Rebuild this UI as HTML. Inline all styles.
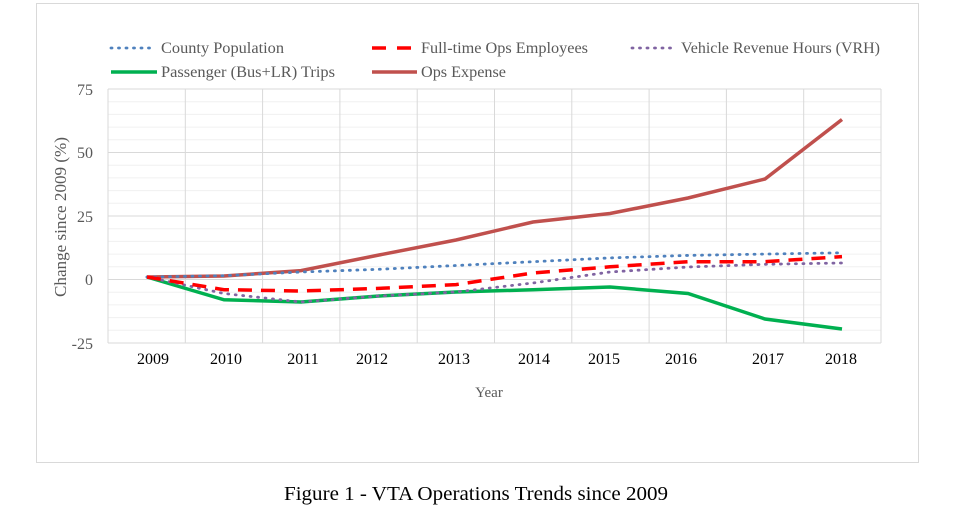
<!DOCTYPE html>
<html><head><meta charset="utf-8"><style>
html,body{margin:0;padding:0;background:#fff;width:976px;height:517px;overflow:hidden}
svg{display:block}
</style></head><body>
<svg width="976" height="517" viewBox="0 0 976 517" xmlns="http://www.w3.org/2000/svg" font-family="Liberation Serif, serif">
<rect x="36.5" y="3.5" width="882" height="459" fill="#fff" stroke="#d9d9d9" stroke-width="1"/>
<g stroke="#f0f0f0" stroke-width="1">
<line x1="108" x2="881" y1="101.7" y2="101.7"/><line x1="108" x2="881" y1="114.4" y2="114.4"/><line x1="108" x2="881" y1="127.1" y2="127.1"/><line x1="108" x2="881" y1="139.8" y2="139.8"/>
<line x1="108" x2="881" y1="165.2" y2="165.2"/><line x1="108" x2="881" y1="177.9" y2="177.9"/><line x1="108" x2="881" y1="190.6" y2="190.6"/><line x1="108" x2="881" y1="203.3" y2="203.3"/>
<line x1="108" x2="881" y1="228.7" y2="228.7"/><line x1="108" x2="881" y1="241.4" y2="241.4"/><line x1="108" x2="881" y1="254.1" y2="254.1"/><line x1="108" x2="881" y1="266.8" y2="266.8"/>
<line x1="108" x2="881" y1="292.2" y2="292.2"/><line x1="108" x2="881" y1="304.9" y2="304.9"/><line x1="108" x2="881" y1="317.6" y2="317.6"/><line x1="108" x2="881" y1="330.3" y2="330.3"/>
</g>
<g stroke="#d9d9d9" stroke-width="1">
<line x1="108" x2="881" y1="89" y2="89"/><line x1="108" x2="881" y1="152.5" y2="152.5"/><line x1="108" x2="881" y1="216" y2="216"/><line x1="108" x2="881" y1="279.5" y2="279.5"/><line x1="108" x2="881" y1="343" y2="343"/>
<line x1="108" x2="108" y1="89" y2="343"/><line x1="185.3" x2="185.3" y1="89" y2="343"/><line x1="262.6" x2="262.6" y1="89" y2="343"/><line x1="339.9" x2="339.9" y1="89" y2="343"/><line x1="417.2" x2="417.2" y1="89" y2="343"/><line x1="494.5" x2="494.5" y1="89" y2="343"/><line x1="571.8" x2="571.8" y1="89" y2="343"/><line x1="649.1" x2="649.1" y1="89" y2="343"/><line x1="726.4" x2="726.4" y1="89" y2="343"/><line x1="803.7" x2="803.7" y1="89" y2="343"/><line x1="881" x2="881" y1="89" y2="343"/>
</g>
<g font-size="16" fill="#595959" text-anchor="end">
<text x="93" y="95">75</text><text x="93" y="158">50</text><text x="93" y="222">25</text><text x="93" y="285">0</text><text x="93" y="349">-25</text>
</g>
<g font-size="16" fill="#000" text-anchor="middle">
<text x="153" y="364">2009</text><text x="226" y="364">2010</text><text x="303" y="364">2011</text><text x="372" y="364">2012</text><text x="454" y="364">2013</text><text x="534" y="364">2014</text><text x="604" y="364">2015</text><text x="681" y="364">2016</text><text x="768" y="364">2017</text><text x="841" y="364">2018</text>
</g>
<text x="489" y="397" font-size="15" fill="#595959" text-anchor="middle">Year</text>
<text transform="translate(66,217) rotate(-90)" font-size="16.5" fill="#595959" text-anchor="middle" textLength="160" lengthAdjust="spacingAndGlyphs">Change since 2009 (%)</text>
<polyline fill="none" stroke="#c0504d" stroke-width="3.5" points="147,277 224,276 301,270.6 379,255 456,240 533,222 610,213.5 688,198 765,179 842,119.5"/>
<polyline fill="none" stroke="#00b050" stroke-width="3.5" points="147,277 224,299.8 301,302 379,296 456,292 533,289.7 610,287 688,293.5 765,319 842,329"/>
<polyline fill="none" stroke="#8064a2" stroke-width="2.8" stroke-dasharray="1 6.5" stroke-linecap="round" points="147,277 224,293.5 301,302 379,296 456,292 533,283 610,272 688,267 765,264.3 842,263"/>
<polyline fill="none" stroke="#4f81bd" stroke-width="2.8" stroke-dasharray="1 6.5" stroke-linecap="round" points="147,277 224,275.7 301,272 379,269.3 456,265.5 533,261.7 610,257.9 688,255.4 765,254.1 842,252.8"/>
<polyline fill="none" stroke="#ff0000" stroke-width="3.5" stroke-dasharray="14 9" points="147,277 224,289.7 301,291 379,288.4 456,284.6 533,273 610,266.8 688,261.7 765,261.7 842,256.6"/>
<g font-size="15.5" fill="#595959">
<line x1="111" x2="155" y1="48" y2="48" stroke="#4f81bd" stroke-width="2.8" stroke-dasharray="1 6.5" stroke-linecap="round"/>
<text x="161" y="53" textLength="123" lengthAdjust="spacingAndGlyphs">County Population</text>
<line x1="372" x2="415" y1="48" y2="48" stroke="#ff0000" stroke-width="3.5" stroke-dasharray="14 11"/>
<text x="421" y="53" textLength="167" lengthAdjust="spacingAndGlyphs">Full-time Ops Employees</text>
<line x1="632" x2="675" y1="48" y2="48" stroke="#8064a2" stroke-width="2.8" stroke-dasharray="1 6.5" stroke-linecap="round"/>
<text x="681" y="53" textLength="199" lengthAdjust="spacingAndGlyphs">Vehicle Revenue Hours (VRH)</text>
<line x1="111" x2="157" y1="72" y2="72" stroke="#00b050" stroke-width="3.5"/>
<text x="161" y="77" textLength="174" lengthAdjust="spacingAndGlyphs">Passenger (Bus+LR) Trips</text>
<line x1="372" x2="417" y1="72" y2="72" stroke="#c0504d" stroke-width="3.5"/>
<text x="421" y="77" textLength="85" lengthAdjust="spacingAndGlyphs">Ops Expense</text>
</g>
<text x="476" y="500" font-size="19.5" fill="#000" text-anchor="middle" textLength="384" lengthAdjust="spacingAndGlyphs">Figure 1 - VTA Operations Trends since 2009</text>
</svg>
</body></html>
